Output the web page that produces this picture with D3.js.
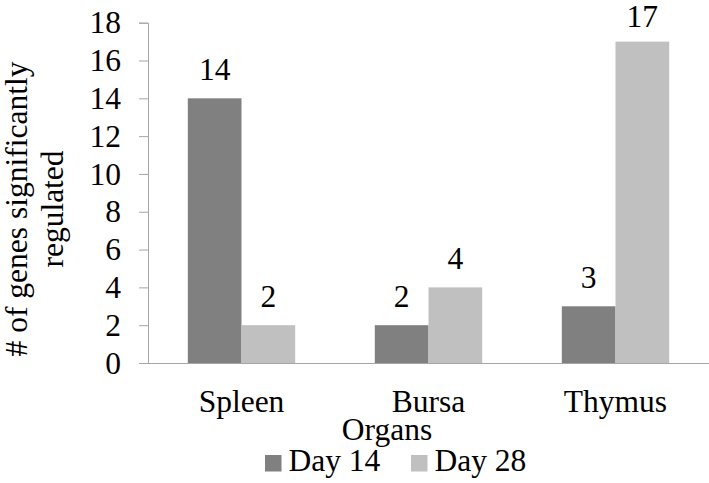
<!DOCTYPE html>
<html>
<head>
<meta charset="utf-8">
<script src="https://cdn.jsdelivr.net/npm/d3@7"></script>
</head>
<body style="margin:0; background:#fff">
<div id="chart"></div>
<script>
const organs = ["Spleen", "Bursa", "Thymus"];
const seriesNames = ["Day 14", "Day 28"];
const day14 = [14, 2, 3];
const day28 = [2, 4, 17];
const yTicks = [0, 2, 4, 6, 8, 10, 12, 14, 16, 18];

const width = 709, height = 483;
const margin = { top: 22.7, right: 0, bottom: 120, left: 148 };
const colors = ["#808080", "#c0c0c0"];
const FONT = "Liberation Serif";
const FS = 31.5;

const svg = d3.select("#chart").append("svg")
  .attr("width", width)
  .attr("height", height)
  .attr("font-family", FONT);

const x = d3.scaleBand()
  .domain(organs)
  .range([margin.left, width - margin.right])
  .paddingInner(0.4257)
  .paddingOuter(0.2128);

const xSub = d3.scaleBand()
  .domain(seriesNames)
  .range([0, x.bandwidth()]);

const y = d3.scaleLinear()
  .domain([0, 18])
  .range([363, margin.top]);

// y axis
const yAxis = svg.append("g")
  .attr("transform", `translate(${margin.left},0)`)
  .call(d3.axisLeft(y).tickValues(yTicks).tickSize(9).tickPadding(18));
yAxis.attr("font-family", FONT).attr("font-size", FS);
yAxis.select(".domain").attr("stroke", "#a6a6a6");
yAxis.selectAll(".tick line").attr("stroke", "#a6a6a6");
yAxis.selectAll(".tick text")
  .attr("font-family", FONT)
  .attr("font-size", FS)
  .attr("fill", "#000");

// bars
const rows = organs.map((o, i) => ({ organ: o, values: [day14[i], day28[i]] }));

const groups = svg.selectAll(".group")
  .data(rows)
  .enter()
  .append("g")
  .attr("transform", d => `translate(${x(d.organ)},0)`);

groups.selectAll("rect")
  .data(d => d.values.map((v, j) => ({ name: seriesNames[j], value: v, j })))
  .enter()
  .append("rect")
  .attr("x", d => xSub(d.name))
  .attr("y", d => y(d.value))
  .attr("width", xSub.bandwidth())
  .attr("height", d => y(0) - y(d.value))
  .attr("fill", d => colors[d.j]);

// value labels (kept inside the top of the chart)
groups.selectAll(".label")
  .data(d => d.values.map((v, j) => ({ name: seriesNames[j], value: v })))
  .enter()
  .append("text")
  .attr("x", d => xSub(d.name) + xSub.bandwidth() / 2)
  .attr("y", d => Math.max(y(d.value) - 18, 27))
  .attr("text-anchor", "middle")
  .attr("font-family", FONT)
  .attr("font-size", FS)
  .text(d => d.value);

// x axis baseline
svg.append("line")
  .attr("x1", margin.left - 9)
  .attr("x2", width)
  .attr("y1", y(0) + 0.5)
  .attr("y2", y(0) + 0.5)
  .attr("stroke", "#a6a6a6");

// category labels
svg.selectAll(".cat")
  .data(organs)
  .enter()
  .append("text")
  .attr("x", d => x(d) + x.bandwidth() / 2)
  .attr("y", 411.5)
  .attr("text-anchor", "middle")
  .attr("font-family", FONT)
  .attr("font-size", FS)
  .text(d => d);

// axis titles
svg.append("text")
  .attr("x", 387)
  .attr("y", 440)
  .attr("text-anchor", "middle")
  .attr("font-family", FONT)
  .attr("font-size", FS)
  .text("Organs");

const yTitle = svg.append("text")
  .attr("transform", "translate(27,209) rotate(-90)")
  .attr("text-anchor", "middle")
  .attr("font-family", FONT)
  .attr("font-size", FS);
yTitle.append("tspan").attr("x", 0).attr("y", 0).text("# of genes significantly");
yTitle.append("tspan").attr("x", 0).attr("y", 36).text("regulated");

// legend
const legendX = [265, 411];
const legend = svg.selectAll(".legend")
  .data(seriesNames)
  .enter()
  .append("g")
  .attr("transform", (d, i) => `translate(${legendX[i]},455)`);
legend.append("rect")
  .attr("width", 16.5)
  .attr("height", 16.5)
  .attr("fill", (d, i) => colors[i]);
legend.append("text")
  .attr("x", 23.5)
  .attr("y", 16)
  .attr("font-family", FONT)
  .attr("font-size", FS)
  .text(d => d);
</script>
</body>
</html>
